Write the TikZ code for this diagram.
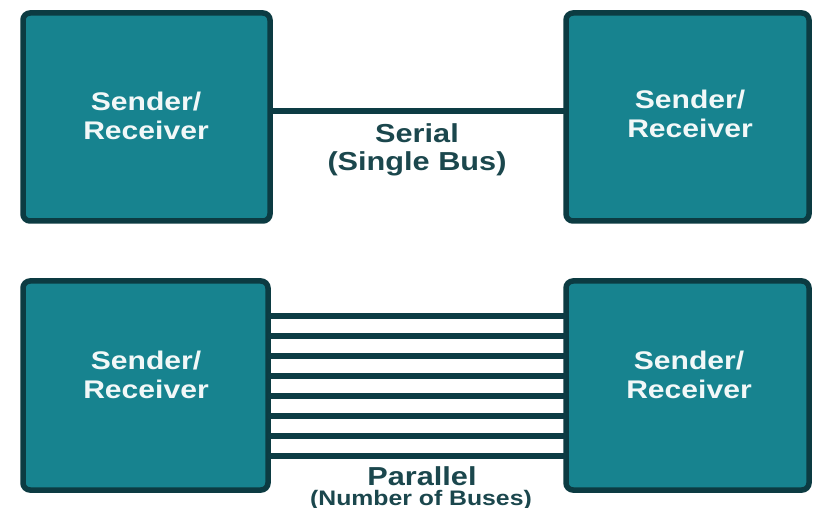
\documentclass[tikz,border=0pt]{standalone}
\usepackage{fontspec}
\newfontfamily\lblfont[FakeStretch=1.18]{Liberation Sans}
\definecolor{boxfill}{HTML}{17838F}
\definecolor{boxline}{HTML}{0C3B42}
\definecolor{wire}{HTML}{0D3C44}
\definecolor{captext}{HTML}{1B474D}
\definecolor{boxtext}{HTML}{F2F8F8}
\tikzset{
  unit/.style={draw=boxline, fill=boxfill, line width=5.5pt, rounded corners=7pt,
    rectangle, inner sep=0pt, outer sep=0pt},
  unitlabel/.style={text=boxtext, align=center, inner sep=0pt,
    font=\lblfont\bfseries\fontsize{25.5}{29}\selectfont},
  caption/.style={text=captext, align=center, inner sep=0pt,
    font=\lblfont\bfseries\fontsize{26}{28}\selectfont},
  subcaption/.style={text=captext, align=center, inner sep=0pt,
    font=\lblfont\bfseries\fontsize{21}{23}\selectfont},
  bus/.style={draw=wire, line width=6pt}
}
\begin{document}
\begin{tikzpicture}[x=1pt, y=-1pt]
  \path[use as bounding box, fill=white] (0,0) rectangle (815,508);

  % serial link: one bus between two units
  \node[unit, minimum width=247pt, minimum height=208pt] (tl) at (146.5,117) {};
  \node[unit, minimum width=243pt, minimum height=208pt] (tr) at (687.5,117) {};
  \draw[bus, line width=5.5pt] ([yshift=6pt]tl.east) -- ([yshift=6pt]tr.west);
  \node[unitlabel] (tlL) at (146,116) {Sender/\\Receiver};
  \node[unitlabel] (trL) at (690,114) {Sender/\\Receiver};
  \node[caption] (ser) at (417,150) {Serial\\(Single Bus)};

  % parallel link: eight buses between two units
  \node[unit, minimum width=245pt, minimum height=209pt] (bl) at (145.5,385.5) {};
  \node[unit, minimum width=243pt, minimum height=209pt] (br) at (687.5,385.5) {};
  \foreach \k in {0,...,7}{
    \pgfmathsetmacro{\dy}{69.5-20*\k}
    \draw[bus] ([yshift=\dy pt]bl.east) -- ([yshift=\dy pt]br.west);
  }
  \node[unitlabel] (blL) at (146,375) {Sender/\\Receiver};
  \node[unitlabel] (brL) at (689,375) {Sender/\\Receiver};
  \node[caption, anchor=base] (par) at (422,485) {Parallel};
  \node[subcaption, anchor=base] (parsub) at (421,505) {(Number of Buses)};
\end{tikzpicture}
\end{document}
